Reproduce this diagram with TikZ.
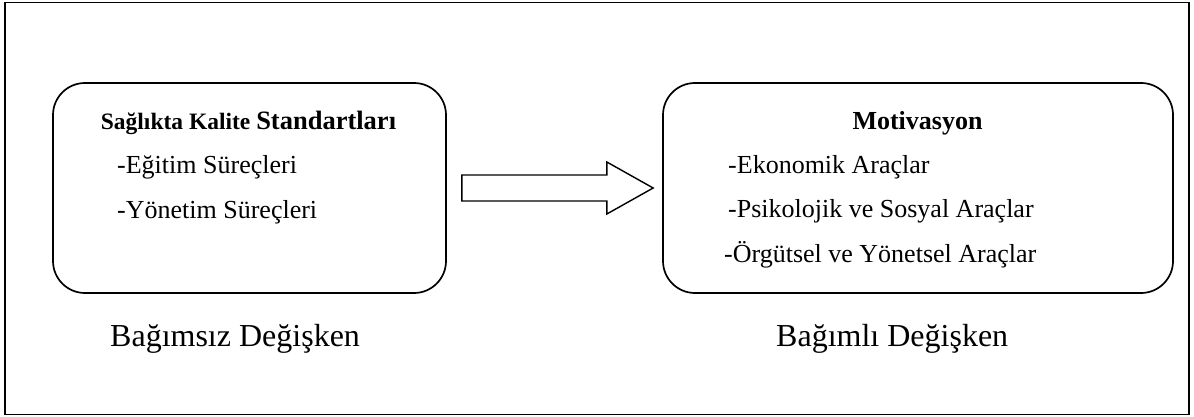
\documentclass[tikz,border=0pt]{standalone}
\usepackage{fontspec}
\setmainfont{Liberation Serif}
\usetikzlibrary{calc}

\tikzset{
  panel/.style={draw=black, line width=1.7pt, rounded corners=32pt, inner sep=0pt},
  head/.style={anchor=base, inner sep=0pt, font=\fontsize{26}{30}\selectfont\bfseries},
  item/.style={anchor=base west, inner sep=0pt, font=\fontsize{26}{30}\selectfont},
  caption/.style={anchor=base west, inner sep=0pt, font=\fontsize{32}{38}\selectfont},
  blockarrow/.style={draw=black, line width=1.4pt, fill=white, line join=miter},
}

\begin{document}
\begin{tikzpicture}[x=1pt, y=-1pt]
  \useasboundingbox (0,0) rectangle (1194,417);
  % outer frame
  \draw[line width=1.7pt] (5,2.5) rectangle (1189,414.5);

  % the two variable panels
  \node[panel, minimum width=393pt, minimum height=210pt] (indep) at (249.5,188) {};
  \node[panel, minimum width=510pt, minimum height=210pt] (dep) at (918,188) {};

  % independent variable
  \node[head] (indepTitle) at (248.5,130)
    {\fontsize{23.5}{28}\selectfont Sağlıkta Kalite \fontsize{26.5}{30}\selectfont Standartları};
  \node[item] (edu) at (117,173) {-Eğitim Süreçleri};
  \node[item] (mgmt) at (117,218) {-Yönetim Süreçleri};

  % dependent variable
  \node[head] (depTitle) at (917.5,130) {Motivasyon};
  \node[item] (eco) at (728,173) {-Ekonomik Araçlar};
  \node[item] (psy) at (728,217) {-Psikolojik ve Sosyal Araçlar};
  \node[item] (org) at (724,262) {-Örgütsel ve Yönetsel Araçlar};

  % captions
  \node[caption] (capL) at (110,346) {Bağımsız Değişken};
  \node[caption] (capR) at (776,346) {Bağımlı Değişken};

  % block arrow between the panels
  \coordinate (aS) at ($(indep.east)+(15,0)$);
  \coordinate (aT) at ($(dep.west)+(-9,0)$);
  \draw[blockarrow]
    ($(aS)+(0,-13)$) -- ($(aS)+(145,-13)$) -- ($(aS)+(145,-26)$) -- (aT)
    -- ($(aS)+(145,26)$) -- ($(aS)+(145,13)$) -- ($(aS)+(0,13)$) -- cycle;
\end{tikzpicture}
\end{document}
